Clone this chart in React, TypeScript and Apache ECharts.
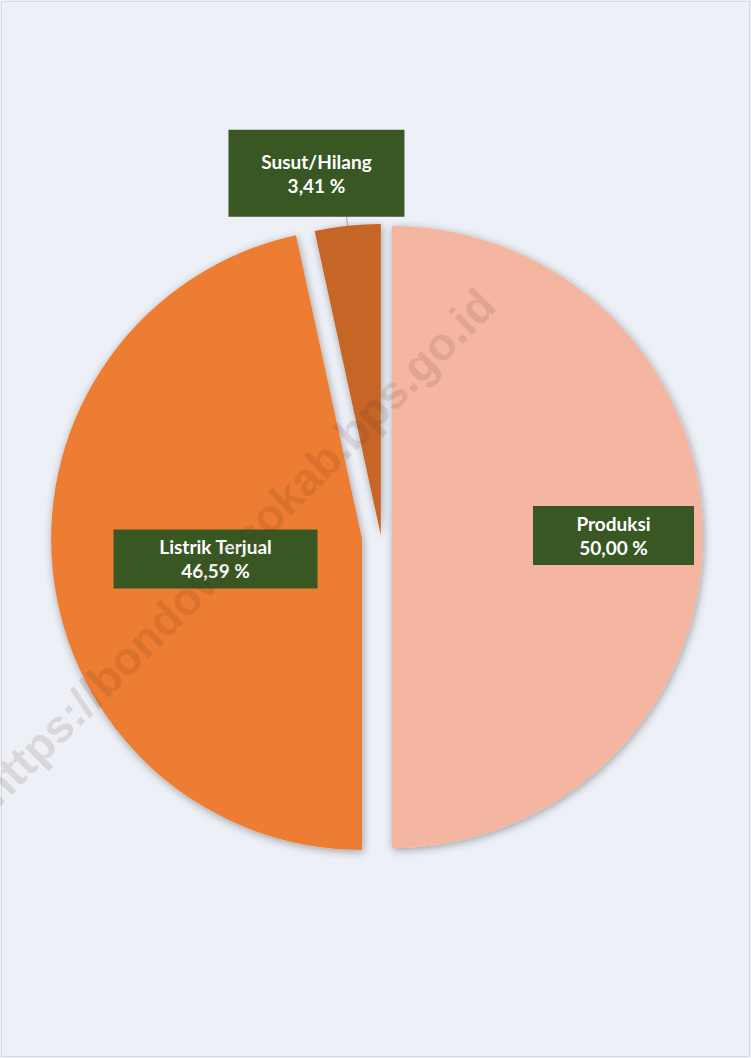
import React, { useEffect, useRef } from 'react';
import * as echarts from 'echarts';

const categories = ['Produksi', 'Listrik Terjual', 'Susut/Hilang'];
const values = [50.0, 46.59, 3.41];
const colors = ['#F4B6A1', '#ED7D31', '#C56528'];
const explode = [11, 19, 2];
const watermark = 'https://bondowosokab.bps.go.id';

const fmt = (v: number) => v.toFixed(2).replace('.', ',') + ' %';

const labelCfg = [
  { w: 161, padV: 5.5, position: 'inside', dx: 63, dy: -1.5 },
  { w: 204, padV: 5.5, position: 'inside', dx: 11, dy: 3 },
  { w: 176, padV: 19.5, position: 'outside', dx: 63, dy: -42.5 },
];

export default function App() {
  const ref = useRef<HTMLDivElement>(null);
  useEffect(() => {
    const chart = echarts.init(ref.current!, null, { renderer: 'svg' });
    const textStyle = {
      color: '#FFFFFF',
      fontFamily: 'Lato',
      fontWeight: 'bold' as const,
      fontSize: 19,
      lineHeight: 24,
    };
    const series = categories.map((name, i) => {
      const cfg = labelCfg[i];
      return {
        type: 'pie',
        name,
        center: [381, 537],
        radius: 311,
        startAngle: 90,
        clockwise: true,
        selectedMode: 'multiple',
        selectedOffset: explode[i],
        avoidLabelOverlap: false,
        silent: true,
        emphasis: { disabled: true },
        labelLayout: { dx: cfg.dx, dy: cfg.dy },
        data: categories.map((n, j) => {
          const own = j === i;
          return {
            name: n,
            value: values[j],
            selected: own,
            itemStyle: own
              ? {
                  color: colors[j],
                  borderWidth: 0,
                  shadowBlur: 8,
                  shadowColor: 'rgba(0,0,0,0.35)',
                  shadowOffsetX: 1,
                  shadowOffsetY: 2,
                }
              : { color: 'rgba(0,0,0,0)', borderWidth: 0 },
            label: own
              ? {
                  show: true,
                  position: cfg.position,
                  formatter: (p: any) => `{t|${p.name}}\n{t|${fmt(p.value)}}`,
                  backgroundColor: '#385723',
                  padding: [cfg.padV, 0],
                  ...textStyle,
                  rich: { t: { ...textStyle, width: cfg.w, align: 'center' } },
                }
              : { show: false },
            labelLine: own && cfg.position === 'outside'
              ? { show: true, length: 10, length2: 0, lineStyle: { color: '#A6A6A6', width: 1 } }
              : { show: false },
          };
        }),
      };
    });

    chart.setOption({
      animation: false,
      backgroundColor: '#EDF1F7',
      series,
      graphic: [
        {
          type: 'rect',
          z: 100,
          shape: { x: 1.5, y: 1.5, width: 748, height: 1055 },
          style: { fill: 'none', stroke: '#D6D9DE', lineWidth: 1 },
        },
        {
          type: 'text',
          z: 100,
          x: 237,
          y: 547,
          rotation: Math.PI / 4,
          style: {
            text: watermark,
            font: 'bold 46px "Liberation Sans"',
            fill: 'rgba(90,40,30,0.15)',
            align: 'center',
            verticalAlign: 'middle',
            textAlign: 'center',
            textVerticalAlign: 'middle',
          },
        },
      ],
    });
    return () => chart.dispose();
  }, []);
  return (
    <div
      ref={ref}
      style={{ position: 'absolute', left: 0, top: 0, width: 751, height: 1058 }}
    />
  );
}
